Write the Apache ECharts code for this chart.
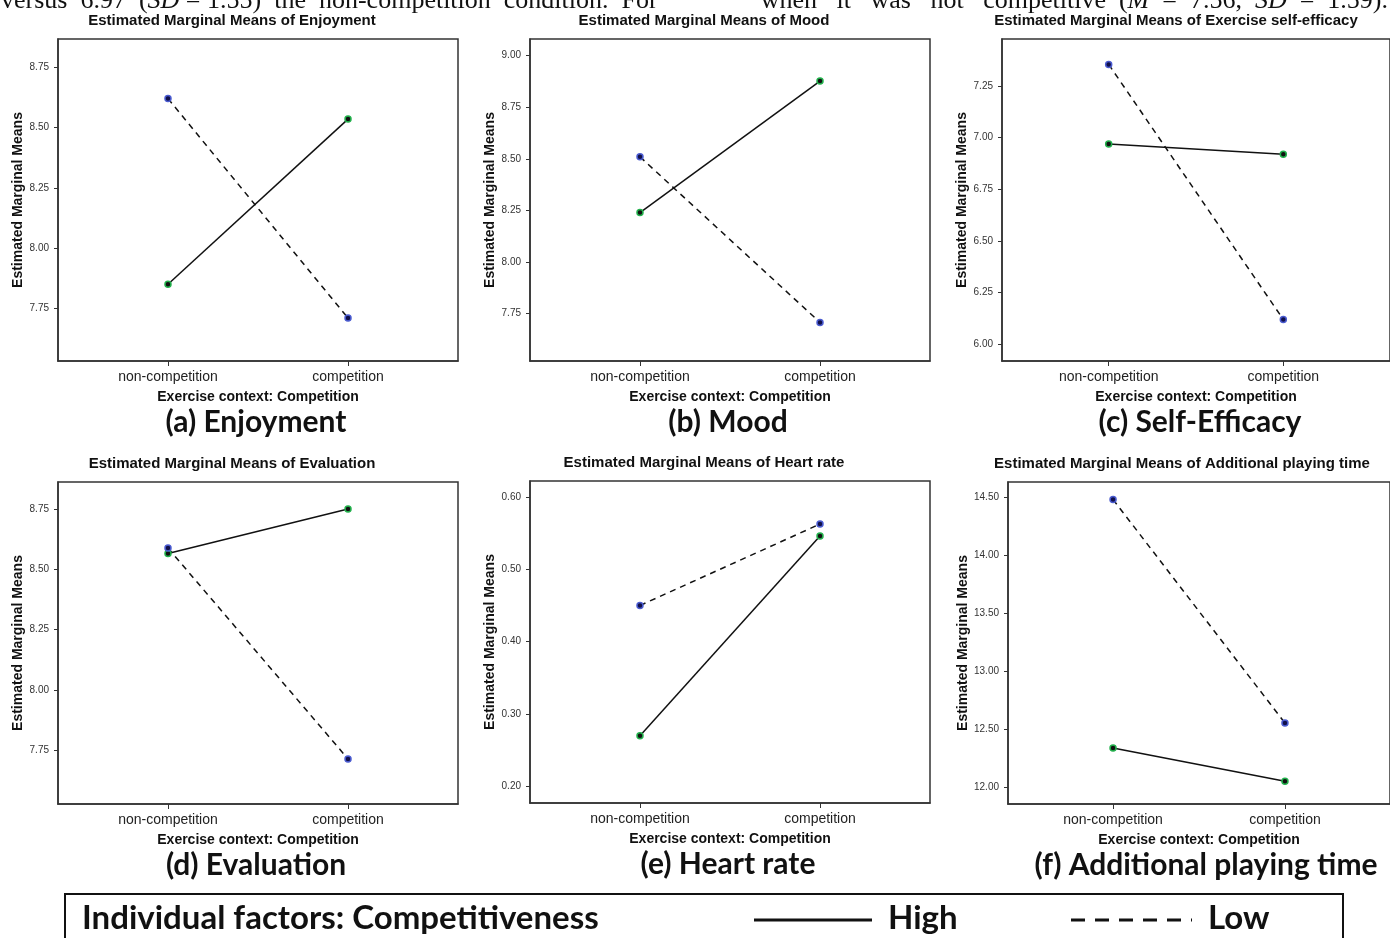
<!DOCTYPE html>
<html>
<head>
<meta charset="utf-8">
<script src="https://cdn.jsdelivr.net/npm/echarts@6/dist/echarts.min.js"></script>
<style>
  html, body { margin: 0; background: #fff; }
  #main { width: 1390px; height: 938px; }
</style>
</head>
<body>
<div id="main"></div>
<script>
// data
var categories = ['non-competition', 'competition'];
var measures = ['Enjoyment', 'Mood', 'Exercise self-efficacy', 'Evaluation', 'Heart rate', 'Additional playing time'];
var captions = ['(a) Enjoyment', '(b) Mood', '(c) Self-Efficacy', '(d) Evaluation', '(e) Heart rate', '(f) Additional playing time'];
var highValues = [[7.85, 8.535], [8.24, 8.877], [6.97, 6.92], [8.566, 8.751], [0.27, 0.546], [12.336, 12.049]];
var lowValues = [[8.62, 7.71], [8.51, 7.708], [7.355, 6.12], [8.589, 7.714], [0.45, 0.5625], [14.483, 12.552]];
var yTicks = [
  [7.75, 8.00, 8.25, 8.50, 8.75],
  [7.75, 8.00, 8.25, 8.50, 8.75, 9.00],
  [6.00, 6.25, 6.50, 6.75, 7.00, 7.25],
  [7.75, 8.00, 8.25, 8.50, 8.75],
  [0.20, 0.30, 0.40, 0.50, 0.60],
  [12.00, 12.50, 13.00, 13.50, 14.00, 14.50]
];
var yRanges = [[7.532, 8.867], [7.521, 9.081], [5.919, 7.478], [7.527, 8.863], [0.177, 0.622], [11.853, 14.634]];

// panel boxes (left, top) in px
var boxes = [[58, 39], [530, 39], [1002, 39], [58, 482], [530, 481], [1008, 482]];
var boxW = 400, boxH = 322;

var axisColor = '#333';
var sans = 'Liberation Sans, Arial, sans-serif';
var serif = 'Liberation Serif, serif';

var grids = [], xAxes = [], yAxes = [], series = [], graphics = [];

boxes.forEach(function (b, i) {
  grids.push({
    left: b[0], top: b[1], width: boxW, height: boxH,
    show: true, borderColor: axisColor, borderWidth: 1.5
  });
  xAxes.push({
    gridIndex: i, type: 'value', min: -0.611, max: 1.611,
    splitLine: { show: false },
    axisLine: { show: true, onZero: false, lineStyle: { color: axisColor, width: 1.5 } },
    axisTick: { show: true, customValues: [0, 1], length: 5, lineStyle: { color: axisColor } },
    axisLabel: {
      customValues: [0, 1], margin: 9, fontSize: 14, color: '#222', fontFamily: sans,
      formatter: function (v) { return categories[Math.round(v)]; }
    },
    name: 'Exercise context: Competition', nameLocation: 'middle', nameGap: 29,
    nameTextStyle: { fontSize: 14, fontWeight: 'bold', color: '#111', fontFamily: sans }
  });
  yAxes.push({
    gridIndex: i, type: 'value', min: yRanges[i][0], max: yRanges[i][1],
    splitLine: { show: false },
    axisLine: { show: true, onZero: false, lineStyle: { color: axisColor, width: 1.5 } },
    axisTick: { show: true, customValues: yTicks[i], length: 4, lineStyle: { color: axisColor } },
    axisLabel: {
      customValues: yTicks[i], margin: 9, fontSize: 10, color: '#333', fontFamily: sans,
      formatter: function (v) { return v.toFixed(2); }
    },
    name: 'Estimated Marginal Means', nameLocation: 'middle', nameRotate: 90, nameGap: 30,
    nameTextStyle: { fontSize: 14, fontWeight: 'bold', color: '#111', fontFamily: sans }
  });
  series.push({
    name: 'High', type: 'line', xAxisIndex: i, yAxisIndex: i,
    data: highValues[i].map(function (v, k) { return [k, v]; }),
    symbol: 'circle', symbolSize: 6,
    itemStyle: { color: '#111', borderColor: '#22b14c', borderWidth: 1.5 },
    lineStyle: { color: '#111', width: 1.5 }
  });
  series.push({
    name: 'Low', type: 'line', xAxisIndex: i, yAxisIndex: i,
    data: lowValues[i].map(function (v, k) { return [k, v]; }),
    symbol: 'circle', symbolSize: 6,
    itemStyle: { color: '#10104a', borderColor: '#4a5bd0', borderWidth: 1.5 },
    lineStyle: { color: '#111', width: 1.5, type: [6, 5] }
  });
  // panel title and caption
  graphics.push({
    type: 'text', x: b[0] + 174, y: b[1] - 18,
    style: { text: 'Estimated Marginal Means of ' + measures[i], font: 'bold 15px ' + sans, fill: '#111', align: 'center', verticalAlign: 'middle' }
  });
  graphics.push({
    type: 'text', x: b[0] + 198, y: b[1] + boxH + 61,
    style: { text: captions[i], font: 'bold 30px Lato, sans-serif', fill: '#111', align: 'center', verticalAlign: 'middle' }
  });
});

// clipped sentence from the page above the figure
var richSerif = {
  n: { font: '26px ' + serif, fill: '#111' },
  i: { font: 'italic 26px ' + serif, fill: '#111' }
};
graphics.push({
  type: 'text', x: 1, y: 14,
  style: {
    text: '{n|versus  6.97  (}{i|SD}{n| = 1.55)  the  non-competition  condition.  For}',
    align: 'left', verticalAlign: 'bottom', rich: richSerif
  }
});
graphics.push({
  type: 'text', x: 1388, y: 14,
  style: {
    text: '{n|when   it   was   not   competitive  (}{i|M}{n|  =  7.56,  }{i|SD}{n|  =  1.59).}',
    align: 'right', verticalAlign: 'bottom', rich: richSerif
  }
});

// legend box
var legendFont = 'bold 33px Lato, sans-serif';
graphics.push({
  type: 'rect', shape: { x: 65, y: 894, width: 1278, height: 60 },
  style: { fill: 'none', stroke: '#111', lineWidth: 2 }
});
graphics.push({
  type: 'text', x: 82, y: 918,
  style: { text: 'Individual factors: Competitiveness', font: legendFont, fill: '#111', verticalAlign: 'middle' }
});
graphics.push({
  type: 'line', shape: { x1: 754, y1: 920, x2: 872, y2: 920 },
  style: { stroke: '#111', lineWidth: 3 }
});
graphics.push({
  type: 'text', x: 888, y: 918,
  style: { text: 'High', font: legendFont, fill: '#111', verticalAlign: 'middle' }
});
graphics.push({
  type: 'line', shape: { x1: 1071, y1: 920, x2: 1192, y2: 920 },
  style: { stroke: '#111', lineWidth: 3, lineDash: [14, 10] }
});
graphics.push({
  type: 'text', x: 1208, y: 918,
  style: { text: 'Low', font: legendFont, fill: '#111', verticalAlign: 'middle' }
});

var chart = echarts.init(document.getElementById('main'));
chart.setOption({
  animation: false,
  backgroundColor: '#fff',
  grid: grids,
  xAxis: xAxes,
  yAxis: yAxes,
  series: series,
  graphic: graphics
});
</script>
</body>
</html>
